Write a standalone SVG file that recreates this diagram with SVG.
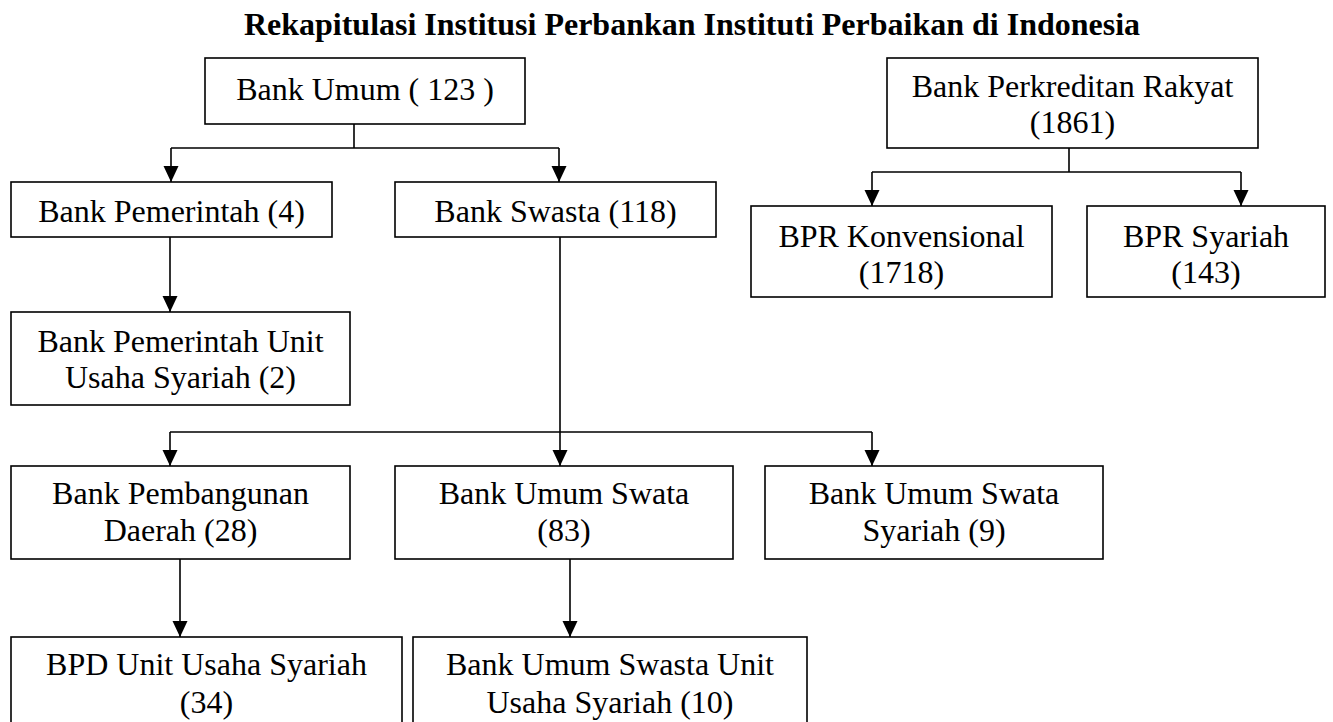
<svg xmlns="http://www.w3.org/2000/svg" width="1333" height="722" viewBox="0 0 1333 722">
<style>
.box{fill:#fff;stroke:#000;stroke-width:1.6}
.t{font-family:"Liberation Serif","Times New Roman",serif;font-size:32px;fill:#000;text-anchor:middle}
.title{font-family:"Liberation Serif","Times New Roman",serif;font-size:32px;font-weight:bold;fill:#000;text-anchor:middle}
.ln{fill:none;stroke:#000;stroke-width:1.6}
</style>
<defs>
<marker id="arr" markerUnits="userSpaceOnUse" markerWidth="16" markerHeight="16" refX="16" refY="7.5" orient="auto">
<path d="M0,0 L16,7.5 L0,15 z" fill="#000"/>
</marker>
</defs>
<rect width="1333" height="722" fill="#fff"/>
<text class="title" x="692" y="35">Rekapitulasi Institusi Perbankan Instituti Perbaikan di Indonesia</text>

<g id="connectors">
<path class="ln" d="M354,124 V148 M171,148 H559"/>
<path class="ln" d="M171,148 V182" marker-end="url(#arr)"/>
<path class="ln" d="M559,148 V182" marker-end="url(#arr)"/>
<path class="ln" d="M170,237 V312" marker-end="url(#arr)"/>
<path class="ln" d="M560,237 V432 M170,432 H872"/>
<path class="ln" d="M170,432 V466" marker-end="url(#arr)"/>
<path class="ln" d="M560,432 V466" marker-end="url(#arr)"/>
<path class="ln" d="M872,432 V466" marker-end="url(#arr)"/>
<path class="ln" d="M180,559 V637" marker-end="url(#arr)"/>
<path class="ln" d="M570,559 V637" marker-end="url(#arr)"/>
<path class="ln" d="M1069,148 V172 M872,172 H1241"/>
<path class="ln" d="M872,172 V206" marker-end="url(#arr)"/>
<path class="ln" d="M1241,172 V206" marker-end="url(#arr)"/>
</g>

<g id="bank-umum">
<rect class="box" x="205" y="58" width="320" height="66"/>
<text class="t" x="365" y="100">Bank Umum ( 123 )</text>
</g>
<g id="bank-pemerintah">
<rect class="box" x="11" y="182" width="321" height="55"/>
<text class="t" x="171.5" y="222">Bank Pemerintah (4)</text>
</g>
<g id="bank-swasta">
<rect class="box" x="395" y="182" width="321" height="55"/>
<text class="t" x="555.5" y="222">Bank Swasta (118)</text>
</g>
<g id="bank-pemerintah-uus">
<rect class="box" x="11" y="312" width="339" height="93"/>
<text class="t" x="180.5" y="352">Bank Pemerintah Unit</text>
<text class="t" x="180.5" y="388">Usaha Syariah (2)</text>
</g>
<g id="bpd">
<rect class="box" x="11" y="466" width="339" height="93"/>
<text class="t" x="180.5" y="504">Bank Pembangunan</text>
<text class="t" x="180.5" y="541">Daerah (28)</text>
</g>
<g id="bank-umum-swata">
<rect class="box" x="395" y="466" width="338" height="93"/>
<text class="t" x="564" y="504">Bank Umum Swata</text>
<text class="t" x="564" y="541">(83)</text>
</g>
<g id="bank-umum-swata-syariah">
<rect class="box" x="765" y="466" width="338" height="93"/>
<text class="t" x="934" y="504">Bank Umum Swata</text>
<text class="t" x="934" y="541">Syariah (9)</text>
</g>
<g id="bpd-uus">
<rect class="box" x="11" y="637" width="391" height="95"/>
<text class="t" x="206.5" y="675">BPD Unit Usaha Syariah</text>
<text class="t" x="206.5" y="713">(34)</text>
</g>
<g id="bus-uus">
<rect class="box" x="413" y="637" width="394" height="95"/>
<text class="t" x="610" y="675">Bank Umum Swasta Unit</text>
<text class="t" x="610" y="713">Usaha Syariah (10)</text>
</g>
<g id="bpr">
<rect class="box" x="887" y="58" width="371" height="90"/>
<text class="t" x="1072.5" y="97">Bank Perkreditan Rakyat</text>
<text class="t" x="1072.5" y="133">(1861)</text>
</g>
<g id="bpr-konvensional">
<rect class="box" x="751" y="206" width="301" height="91"/>
<text class="t" x="901.5" y="247">BPR Konvensional</text>
<text class="t" x="901.5" y="283">(1718)</text>
</g>
<g id="bpr-syariah">
<rect class="box" x="1087" y="206" width="238" height="91"/>
<text class="t" x="1206" y="247">BPR Syariah</text>
<text class="t" x="1206" y="283">(143)</text>
</g>
</svg>
